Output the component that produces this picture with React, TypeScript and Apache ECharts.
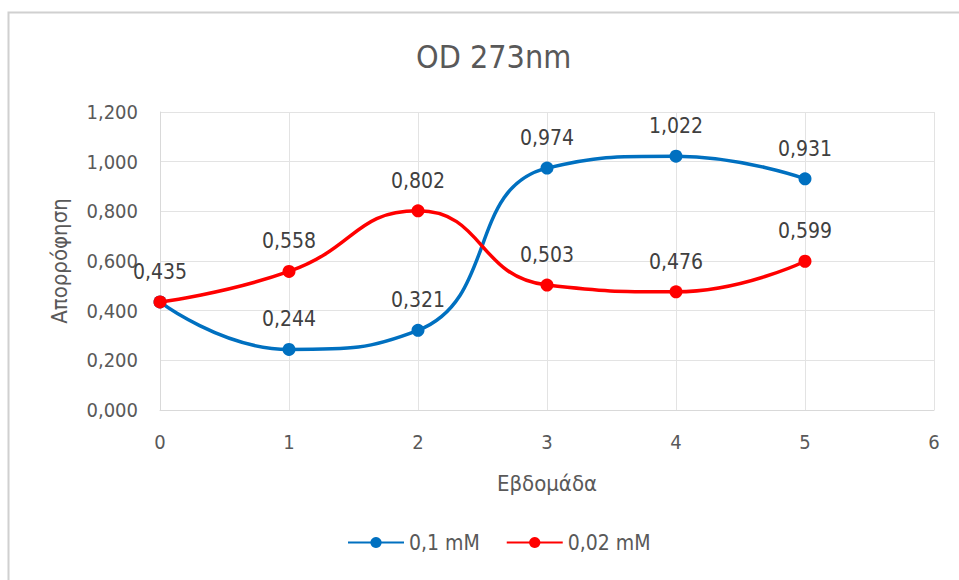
import React, { useEffect, useRef } from "react";
import * as echarts from "echarts";

const weeks = [0, 1, 2, 3, 4, 5];
const seriesNames = ["0,1 mM", "0,02 mM"];
const values01 = [0.435, 0.244, 0.321, 0.974, 1.022, 0.931];
const values002 = [0.435, 0.558, 0.802, 0.503, 0.476, 0.599];
const colors = ["#0070C0", "#FF0000"];

const FONT = "'DejaVu Sans Condensed', 'Liberation Sans Narrow', 'Open Sans', sans-serif";
const fmt = (v: number) => v.toFixed(3).replace(".", ",");

export default function App() {
  const ref = useRef<HTMLDivElement>(null);
  useEffect(() => {
    if (!ref.current) return;
    const chart = echarts.init(ref.current, undefined, { renderer: "svg" });
    const mk = (vals: number[]) => weeks.map((w, i) => [w, vals[i]]);
    const labelStyle = {
      show: true,
      position: "top",
      distance: 13,
      fontFamily: FONT,
      fontSize: 21,
      color: "#404040",
      formatter: (p: any) => fmt(p.value[1]),
    };
    chart.setOption({
      animation: false,
      backgroundColor: "#ffffff",
      textStyle: { fontFamily: FONT },
      title: {
        text: "OD 273nm",
        left: 411,
        top: 36,
        textStyle: { fontFamily: FONT, fontSize: 32, fontWeight: "normal", color: "#595959" },
      },
      graphic: [
        {
          type: "rect",
          shape: { x: 8.5, y: 12.5, width: 970, height: 600 },
          style: { fill: "none", stroke: "#d0d0d0", lineWidth: 2 },
          silent: true,
        },
      ],
      legend: {
        bottom: 22,
        left: 342,
        itemWidth: 56,
        itemHeight: 14,
        itemGap: 26,
        textStyle: { fontFamily: FONT, fontSize: 21, color: "#595959" },
        data: seriesNames,
      },
      grid: { left: 160, right: 25, top: 112, bottom: 170, containLabel: false },
      xAxis: {
        type: "value",
        min: 0,
        max: 6,
        interval: 1,
        name: "Εβδομάδα",
        nameLocation: "middle",
        nameGap: 62,
        nameTextStyle: { fontFamily: FONT, fontSize: 22, color: "#595959" },
        axisLine: { show: true, lineStyle: { color: "#d9d9d9", width: 1 } },
        axisTick: { show: false },
        axisLabel: { fontFamily: FONT, fontSize: 20, color: "#595959", margin: 22 },
        splitLine: { show: true, lineStyle: { color: "#e3e3e3", width: 1 } },
      },
      yAxis: {
        type: "value",
        min: 0,
        max: 1.2,
        interval: 0.2,
        name: "Απορρόφηση",
        nameLocation: "middle",
        nameGap: 90,
        nameTextStyle: { fontFamily: FONT, fontSize: 22, color: "#595959" },
        axisLine: { show: true, lineStyle: { color: "#d9d9d9", width: 1 } },
        axisTick: { show: false },
        axisLabel: { fontFamily: FONT, fontSize: 20, color: "#595959", margin: 22, formatter: (v: number) => fmt(v) },
        splitLine: { show: true, lineStyle: { color: "#e3e3e3", width: 1 } },
      },
      series: [
        {
          name: seriesNames[0],
          type: "line",
          data: mk(values01).map((d, i) =>
            i === 0 ? { value: d, label: { show: false } } : d
          ),
          smooth: 0.5,
          symbol: "circle",
          symbolSize: 13,
          color: colors[0],
          lineStyle: { width: 3.5, color: colors[0] },
          itemStyle: { color: colors[0] },
          label: labelStyle,
          z: 2,
        },
        {
          name: seriesNames[1],
          type: "line",
          data: mk(values002),
          smooth: 0.5,
          symbol: "circle",
          symbolSize: 13,
          color: colors[1],
          lineStyle: { width: 3.5, color: colors[1] },
          itemStyle: { color: colors[1] },
          label: labelStyle,
          z: 3,
        },
      ],
    });
    return () => chart.dispose();
  }, []);
  return (
    <div
      ref={ref}
      style={{ position: "absolute", left: 0, top: 0, width: 959, height: 580 }}
    />
  );
}
